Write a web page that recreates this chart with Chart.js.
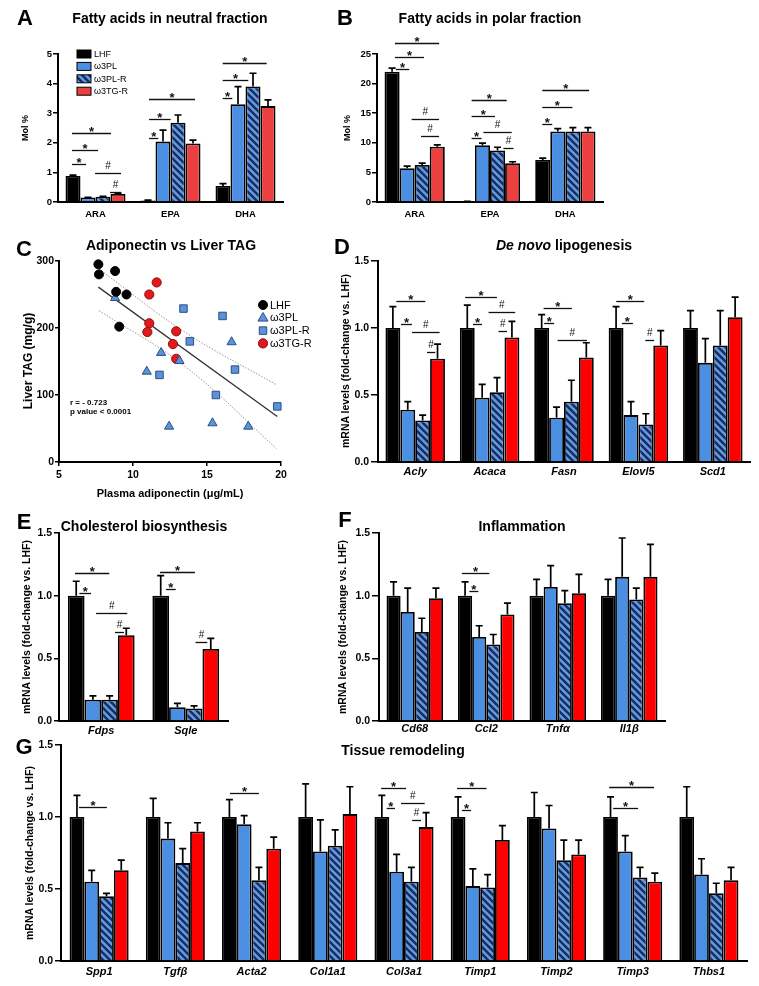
<!DOCTYPE html>
<html>
<head>
<meta charset="utf-8">
<script src="https://cdn.jsdelivr.net/npm/chart.js@4.4.1/dist/chart.umd.min.js"></script>
<style>
body { margin: 0; background: #fff; }
#page { position: relative; width: 759px; height: 986px; overflow: hidden; font-family: "Liberation Sans", Arial, sans-serif; }
#page canvas { position: absolute; }
.t { position: absolute; white-space: nowrap; transform: translate(-50%, -50%); font-weight: bold; color: #000; }
.v { transform: translate(-50%, -50%) rotate(-90deg); }
.l { transform: translate(0, -50%); }
</style>
</head>
<body>
<div id="page"></div>
<script>
// group names shared by every panel
const groups = ['LHF', 'ω3PL', 'ω3PL-R', 'ω3TG-R'];

// A - neutral fraction (mol %)
const catsA = ['ARA', 'EPA', 'DHA'];
const lhfA = [0.88, 0.05, 0.54], lhfSemA = [0.03, 0.01, 0.08];
const plA = [0.15, 2.04, 3.30], plSemA = [0.01, 0.39, 0.60];
const plrA = [0.18, 2.68, 3.90], plrSemA = [0.01, 0.26, 0.45];
const tgA = [0.27, 1.98, 3.24], tgSemA = [0.03, 0.11, 0.21];
// [category, from bar, to bar, value, symbol]
const sigA = [
    [0, 0.43, 1.37, 1.27, '*'], [0, 0.43, 2.17, 1.76, '*'], [0, 0.43, 3.03, 2.32, '*'],
    [0, 1.97, 3.70, 0.97, '#'], [0, 2.97, 3.70, 0.35, '#'],
    [1, 0.57, 1.19, 2.17, '*'], [1, 0.57, 2.01, 2.80, '*'], [1, 0.57, 3.63, 3.47, '*'],
    [2, 0.48, 1.12, 3.50, '*'], [2, 0.48, 2.19, 4.12, '*'], [2, 0.48, 3.41, 4.69, '*']
];

// B - polar fraction (mol %)
const catsB = ['ARA', 'EPA', 'DHA'];
const lhfB = [22.0, 0.1, 7.1], lhfSemB = [0.6, 0.02, 0.3];
const plB = [5.7, 9.6, 11.9], plSemB = [0.35, 0.35, 0.5];
const plrB = [6.25, 8.7, 11.9], plrSemB = [0.3, 0.55, 0.65];
const tgB = [9.35, 6.55, 11.9], tgSemB = [0.3, 0.25, 0.65];
const sigB = [
    [0, 0.75, 1.64, 22.4, '*'], [0, 0.69, 2.62, 24.5, '*'], [0, 0.69, 3.62, 26.8, '*'],
    [0, 1.80, 3.62, 14.0, '#'], [0, 2.42, 3.62, 11.15, '#'],
    [1, 0.78, 1.44, 10.75, '*'], [1, 0.78, 2.33, 14.6, '*'], [1, 0.78, 3.11, 17.2, '*'],
    [1, 1.56, 3.44, 11.9, '#'], [1, 2.89, 3.56, 9.2, '#'],
    [2, 0.47, 1.13, 13.2, '*'], [2, 0.47, 2.47, 16.1, '*'], [2, 0.47, 3.58, 18.9, '*']
];

// C - adiponectin (x, µg/mL) vs liver TAG (y, mg/g)
const lhfX = [7.66, 7.70, 8.79, 8.86, 9.56, 9.07];
const lhfY = [295, 280, 285, 254, 250, 202];
const plX = [8.79, 11.90, 10.93, 13.14, 16.66, 12.44, 15.37, 17.79];
const plY = [245, 163, 135, 151, 179, 53, 58, 53];
const plrX = [13.41, 16.05, 13.84, 11.79, 16.89, 15.60, 19.75];
const plrY = [229, 218, 180, 130, 138, 100, 83];
const tgX = [11.60, 11.10, 11.10, 10.97, 12.92, 12.70, 12.92];
const tgY = [268, 250, 207, 194, 195, 176, 154];
const fitX = [7.66, 19.75], fitY = [261, 68];
const bandX = [7.7, 13.5, 19.7];
const upperY = [288, 194, 115];
const lowerY = [226, 143, 20];

// D - de novo lipogenesis
const catsD = ['Acly', 'Acaca', 'Fasn', 'Elovl5', 'Scd1'];
const lhfD = [1, 1, 1, 1, 1], lhfSemD = [0.16, 0.17, 0.10, 0.16, 0.13];
const plD = [0.39, 0.48, 0.33, 0.35, 0.74], plSemD = [0.06, 0.10, 0.08, 0.10, 0.18];
const plrD = [0.31, 0.52, 0.45, 0.28, 0.87], plrSemD = [0.04, 0.11, 0.16, 0.08, 0.26];
const tgD = [0.77, 0.93, 0.78, 0.87, 1.08], tgSemD = [0.11, 0.12, 0.11, 0.11, 0.15];
const sigD = [
    [0, 0.73, 2.68, 1.20, '*'], [0, 1.04, 1.78, 1.03, '*'], [0, 1.78, 3.64, 0.97, '#'], [0, 2.79, 3.35, 0.82, '#'],
    [1, 0.36, 2.49, 1.23, '*'], [1, 0.88, 1.49, 1.03, '*'], [1, 1.93, 3.72, 1.12, '#'], [1, 2.60, 3.17, 0.98, '#'],
    [2, 0.63, 2.53, 1.15, '*'], [2, 0.67, 1.34, 1.04, '*'], [2, 1.57, 3.54, 0.91, '#'],
    [3, 0.51, 2.39, 1.20, '*'], [3, 0.89, 1.63, 1.04, '*'], [3, 2.46, 3.06, 0.91, '#']
];

// E - cholesterol biosynthesis
const catsE = ['Fdps', 'Sqle'];
const lhfE = [1, 1], lhfSemE = [0.115, 0.16];
const plE = [0.17, 0.11], plSemE = [0.03, 0.03];
const plrE = [0.17, 0.10], plrSemE = [0.03, 0.02];
const tgE = [0.685, 0.575], tgSemE = [0.055, 0.085];
const sigE = [
    [0, 0.43, 2.48, 1.18, '*'], [0, 0.69, 1.39, 1.02, '*'], [0, 1.69, 3.56, 0.86, '#'], [0, 2.82, 3.36, 0.71, '#'],
    [1, 0.46, 2.55, 1.19, '*'], [1, 0.82, 1.40, 1.05, '*'], [1, 2.59, 3.29, 0.63, '#']
];

// F - inflammation
const catsF = ['Cd68', 'Ccl2', 'Tnfα', 'Il1β'];
const lhfF = [1, 1, 1, 1], lhfSemF = [0.11, 0.11, 0.13, 0.13];
const plF = [0.87, 0.67, 1.07, 1.15], plSemF = [0.19, 0.09, 0.17, 0.31];
const plrF = [0.71, 0.61, 0.94, 0.97], plrSemF = [0.11, 0.08, 0.10, 0.09];
const tgF = [0.98, 0.85, 1.02, 1.15], tgSemF = [0.08, 0.09, 0.15, 0.26];
const sigF = [[1, 0.27, 2.22, 1.18, '*'], [1, 0.80, 1.44, 1.04, '*']];

// G - tissue remodeling
const catsG = ['Spp1', 'Tgfβ', 'Acta2', 'Col1a1', 'Col3a1', 'Timp1', 'Timp2', 'Timp3', 'Thbs1'];
const lhfG = [1, 1, 1, 1, 1, 1, 1, 1, 1];
const lhfSemG = [0.15, 0.13, 0.12, 0.23, 0.15, 0.14, 0.17, 0.14, 0.21];
const plG = [0.55, 0.85, 0.95, 0.76, 0.62, 0.52, 0.92, 0.76, 0.60];
const plSemG = [0.08, 0.11, 0.06, 0.22, 0.12, 0.12, 0.16, 0.11, 0.11];
const plrG = [0.45, 0.68, 0.56, 0.80, 0.55, 0.51, 0.70, 0.58, 0.47];
const plrSemG = [0.02, 0.10, 0.09, 0.11, 0.10, 0.09, 0.14, 0.07, 0.07];
const tgG = [0.63, 0.90, 0.78, 1.02, 0.93, 0.84, 0.74, 0.55, 0.56];
const tgSemG = [0.07, 0.06, 0.08, 0.19, 0.10, 0.10, 0.10, 0.06, 0.09];
const sigG = [
    [0, 0.64, 2.53, 1.07, '*'],
    [2, 0.54, 2.50, 1.17, '*'],
    [4, 0.45, 2.14, 1.20, '*'], [4, 0.83, 1.39, 1.06, '*'], [4, 1.80, 3.40, 1.10, '#'], [4, 2.55, 3.15, 0.98, '#'],
    [5, 0.43, 2.43, 1.20, '*'], [5, 0.76, 1.38, 1.05, '*'],
    [7, 0.41, 3.45, 1.21, '*'], [7, 0.68, 2.37, 1.06, '*']
];

const FONT = '"Liberation Sans", Arial, sans-serif';
Chart.defaults.font.family = FONT;
Chart.defaults.color = '#000';

const BLUE = '#4b8fe2';
const page = document.getElementById('page');

function hatch(bg, fg) {
    const s = 7;
    const c = document.createElement('canvas');
    c.width = s; c.height = s;
    const g = c.getContext('2d');
    g.fillStyle = bg;
    g.fillRect(0, 0, s, s);
    g.strokeStyle = fg;
    g.lineWidth = 2.4;
    g.beginPath();
    for (const k of [-s, 0, s]) {
        g.moveTo(k - 1, -1);
        g.lineTo(k + s + 1, s + 1);
    }
    g.stroke();
    return g.createPattern(c, 'repeat');
}
const HATCH = hatch('#5e9be3', '#1b2b5c');

function makeCanvas(a) {
    const cv = document.createElement('canvas');
    const w = a.r - a.l + 50 + a.pr;
    const h = a.pt + a.b - a.t + a.xh;
    cv.width = w; cv.height = h;
    cv.style.left = (a.l - 50) + 'px';
    cv.style.top = (a.t - a.pt) + 'px';
    cv.style.width = w + 'px';
    cv.style.height = h + 'px';
    page.appendChild(cv);
    return cv;
}

// upward error bars with caps
const errPlugin = {
    id: 'err',
    afterDatasetsDraw(chart) {
        const ctx = chart.ctx, y = chart.scales.y;
        ctx.save();
        ctx.strokeStyle = '#000';
        ctx.lineWidth = 1.7;
        chart.data.datasets.forEach((ds, i) => {
            if (!ds.sem) return;
            chart.getDatasetMeta(i).data.forEach((bar, j) => {
                const top = y.getPixelForValue(ds.data[j]);
                const e = y.getPixelForValue(ds.data[j] + ds.sem[j]);
                ctx.beginPath();
                ctx.moveTo(bar.x, top);
                ctx.lineTo(bar.x, e);
                ctx.moveTo(bar.x - 3.5, e);
                ctx.lineTo(bar.x + 3.5, e);
                ctx.stroke();
            });
        });
        ctx.restore();
    }
};

// significance brackets (* vs LHF, # vs ω3TG-R)
const sigPlugin = {
    id: 'sig',
    afterDatasetsDraw(chart, args, opts) {
        const items = opts.items || [];
        const ctx = chart.ctx, y = chart.scales.y;
        const bars = chart.getDatasetMeta(0).data;
        ctx.save();
        ctx.strokeStyle = '#111';
        ctx.fillStyle = '#111';
        ctx.lineWidth = 1.3;
        ctx.textAlign = 'center';
        ctx.textBaseline = 'alphabetic';
        items.forEach(([c, a, b, v, s]) => {
            const bar = bars[c];
            const left = bar.x - bar.width / 2;
            const x1 = left + a * bar.width, x2 = left + b * bar.width;
            const py = Math.round(y.getPixelForValue(v)) + 0.5;
            ctx.beginPath();
            ctx.moveTo(x1, py);
            ctx.lineTo(x2, py);
            ctx.stroke();
            if (s === '*') {
                ctx.font = 'bold 13px ' + FONT;
                ctx.fillText('*', (x1 + x2) / 2, py + 2);
            } else {
                ctx.font = '10px ' + FONT;
                ctx.fillText('#', (x1 + x2) / 2, py - 5);
            }
        });
        ctx.restore();
    }
};

function drawMarker(ctx, style, x, y, r) {
    ctx.beginPath();
    if (style === 'triangle') {
        ctx.moveTo(x, y - r);
        ctx.lineTo(x + r * 0.95, y + r * 0.62);
        ctx.lineTo(x - r * 0.95, y + r * 0.62);
        ctx.closePath();
    } else if (style === 'rect') {
        const s = r * Math.SQRT1_2;
        ctx.rect(x - s, y - s, 2 * s, 2 * s);
    } else {
        ctx.arc(x, y, r, 0, Math.PI * 2);
    }
    ctx.fill();
    ctx.stroke();
}

// small key drawn inside the plot area
const keyPlugin = {
    id: 'key',
    afterDraw(chart, args, opts) {
        if (opts.x === undefined) return;
        const ctx = chart.ctx, area = chart.chartArea;
        ctx.save();
        ctx.font = opts.size + 'px ' + FONT;
        ctx.textBaseline = 'middle';
        ctx.textAlign = 'left';
        chart.data.datasets.filter(d => !d.noKey).forEach((ds, i) => {
            const x = area.left + opts.x, y = area.top + opts.y + i * opts.gap;
            ctx.fillStyle = ds.backgroundColor;
            ctx.strokeStyle = ds.borderColor;
            ctx.lineWidth = 1;
            if (opts.box) {
                ctx.fillRect(x - 7, y - 4, 14, 8);
                ctx.strokeRect(x - 7, y - 4, 14, 8);
            } else {
                drawMarker(ctx, ds.pointStyle, x, y, ds.pointRadius);
            }
            ctx.fillStyle = '#000';
            ctx.fillText(ds.label, x + opts.tx, y + 0.5);
        });
        ctx.restore();
    }
};

function yAxis(min, max, step, o) {
    return {
        min: min, max: max,
        ticks: {
            stepSize: step, padding: o.pad, color: '#000',
            font: { size: o.fs, weight: 'bold' },
            callback: o.fmt ? (v => Number(v).toFixed(1)) : (v => v)
        },
        grid: { drawOnChartArea: false, drawTicks: true, tickLength: o.tl, color: '#000', lineWidth: 1.5 },
        border: { color: '#000', width: 2 },
        afterFit(s) { s.width = 50; }
    };
}

function barPanel(a, cats, vals, sems, red, sig, o) {
    const fills = ['#000', BLUE, HATCH, red];
    const datasets = vals.map((v, i) => ({
        label: groups[i],
        data: v,
        sem: sems[i],
        backgroundColor: fills[i],
        borderColor: '#000',
        borderWidth: 1.8,
        borderSkipped: 'start'
    }));
    new Chart(makeCanvas(a), {
        type: 'bar',
        data: { labels: cats, datasets: datasets },
        options: {
            responsive: false,
            animation: false,
            devicePixelRatio: 1,
            layout: { padding: { left: 0, top: a.pt, right: a.pr, bottom: 0 } },
            datasets: { bar: { categoryPercentage: o.cp, barPercentage: 1 } },
            plugins: {
                legend: { display: false },
                tooltip: { enabled: false },
                sig: { items: sig },
                key: o.key || {}
            },
            scales: {
                x: {
                    grid: { display: false, drawTicks: false },
                    border: { color: '#000', width: 2 },
                    ticks: {
                        color: '#000', padding: o.xpad, maxRotation: 0, autoSkip: false,
                        font: { size: o.xfs, weight: 'bold', style: o.italic ? 'italic' : 'normal' }
                    },
                    afterFit(s) { s.height = a.xh; }
                },
                y: yAxis(0, o.max, o.step, o.y)
            }
        },
        plugins: [errPlugin, sigPlugin, keyPlugin]
    });
}

const RED1 = '#ec3f3f';
const RED2 = '#ff0000';

barPanel({ l: 58, t: 54, r: 283, b: 202, pt: 25, pr: 8, xh: 25 }, catsA,
    [lhfA, plA, plrA, tgA], [lhfSemA, plSemA, plrSemA, tgSemA], RED1, sigA,
    { cp: 0.8, max: 5, step: 1, xfs: 9.5, xpad: 7, italic: false,
      y: { fs: 9.5, pad: 1, tl: 5 },
      key: { x: 26, y: 0, gap: 12.4, size: 9, tx: 10, box: true } });

barPanel({ l: 377, t: 54, r: 603, b: 202, pt: 25, pr: 8, xh: 25 }, catsB,
    [lhfB, plB, plrB, tgB], [lhfSemB, plSemB, plrSemB, tgSemB], RED1, sigB,
    { cp: 0.8, max: 25, step: 5, xfs: 9.5, xpad: 7, italic: false,
      y: { fs: 9.5, pad: 1, tl: 5 } });

barPanel({ l: 378, t: 261, r: 750, b: 462, pt: 10, pr: 8, xh: 25 }, catsD,
    [lhfD, plD, plrD, tgD], [lhfSemD, plSemD, plrSemD, tgSemD], RED2, sigD,
    { cp: 0.8, max: 1.5, step: 0.5, xfs: 11, xpad: 3, italic: true,
      y: { fs: 10.5, pad: 2, tl: 7, fmt: true } });

barPanel({ l: 59, t: 533, r: 228, b: 721, pt: 10, pr: 8, xh: 25 }, catsE,
    [lhfE, plE, plrE, tgE], [lhfSemE, plSemE, plrSemE, tgSemE], RED2, sigE,
    { cp: 0.79, max: 1.5, step: 0.5, xfs: 11, xpad: 3, italic: true,
      y: { fs: 10.5, pad: 2, tl: 5, fmt: true } });

barPanel({ l: 379, t: 533, r: 665, b: 721, pt: 10, pr: 8, xh: 25 }, catsF,
    [lhfF, plF, plrF, tgF], [lhfSemF, plSemF, plrSemF, tgSemF], RED2, sigF,
    { cp: 0.79, max: 1.5, step: 0.5, xfs: 11, xpad: 1, italic: true,
      y: { fs: 10.5, pad: 2, tl: 7, fmt: true } });

barPanel({ l: 61, t: 745, r: 747, b: 961, pt: 10, pr: 8, xh: 25 }, catsG,
    [lhfG, plG, plrG, tgG], [lhfSemG, plSemG, plrSemG, tgSemG], RED2, sigG,
    { cp: 0.775, max: 1.5, step: 0.5, xfs: 11, xpad: 4, italic: true,
      y: { fs: 10.5, pad: 2, tl: 6, fmt: true } });

// C - scatter with regression and confidence band
const pts = (xs, ys) => xs.map((x, i) => ({ x: x, y: ys[i] }));
const aC = { l: 59, t: 261, r: 281, b: 462, pt: 10, pr: 70, xh: 28 };
new Chart(makeCanvas(aC), {
    type: 'scatter',
    data: {
        datasets: [
            { label: 'LHF', data: pts(lhfX, lhfY), pointStyle: 'circle', pointRadius: 4.5,
              backgroundColor: '#000', borderColor: '#000', borderWidth: 1, order: 1 },
            { label: 'ω3PL', data: pts(plX, plY), pointStyle: 'triangle', pointRadius: 5.3,
              backgroundColor: '#5b93d8', borderColor: '#2c4f86', borderWidth: 1, order: 1 },
            { label: 'ω3PL-R', data: pts(plrX, plrY), pointStyle: 'rect', pointRadius: 5.3,
              backgroundColor: '#5b93d8', borderColor: '#2c4f86', borderWidth: 1, order: 1 },
            { label: 'ω3TG-R', data: pts(tgX, tgY), pointStyle: 'circle', pointRadius: 4.6,
              backgroundColor: '#e3191c', borderColor: '#8a1010', borderWidth: 1, order: 1 },
            { label: 'fit', noKey: true, data: pts(fitX, fitY), showLine: true, pointRadius: 0,
              borderColor: '#333', borderWidth: 1.3, order: 5 },
            { label: 'upper', noKey: true, data: pts(bandX, upperY), showLine: true, pointRadius: 0,
              borderColor: '#999', borderWidth: 1, borderDash: [1.5, 1.5], tension: 0.4, order: 5 },
            { label: 'lower', noKey: true, data: pts(bandX, lowerY), showLine: true, pointRadius: 0,
              borderColor: '#999', borderWidth: 1, borderDash: [1.5, 1.5], tension: 0.4, order: 5 }
        ]
    },
    options: {
        responsive: false,
        animation: false,
        devicePixelRatio: 1,
        clip: false,
        layout: { padding: { left: 0, top: aC.pt, right: aC.pr, bottom: 0 } },
        plugins: {
            legend: { display: false },
            tooltip: { enabled: false },
            key: { x: 204, y: 44, gap: 12.8, size: 11, tx: 7 }
        },
        scales: {
            x: {
                type: 'linear', min: 5, max: 20,
                ticks: { stepSize: 5, color: '#000', padding: 3, font: { size: 10.5, weight: 'bold' } },
                grid: { drawOnChartArea: false, drawTicks: true, tickLength: 4, color: '#000', lineWidth: 1.5 },
                border: { color: '#000', width: 2 },
                afterFit(s) { s.height = aC.xh; }
            },
            y: yAxis(0, 300, 100, { fs: 10.5, pad: 1, tl: 4 })
        }
    },
    plugins: [keyPlugin]
});

// panel letters, titles, axis titles
const texts = [
    [25, 18, 'A', 22], [345, 18, 'B', 22], [24, 249, 'C', 22], [342, 247, 'D', 22],
    [24, 522, 'E', 22], [345, 520, 'F', 22], [24, 747, 'G', 22],
    [170, 18, 'Fatty acids in neutral fraction', 14],
    [490, 18, 'Fatty acids in polar fraction', 14],
    [171, 245, 'Adiponectin vs Liver TAG', 14],
    [564, 245, '<i>De novo</i> lipogenesis', 14],
    [144, 526, 'Cholesterol biosynthesis', 14],
    [522, 526, 'Inflammation', 14],
    [403, 750, 'Tissue remodeling', 14],
    [170, 493, 'Plasma adiponectin (μg/mL)', 11]
];
texts.forEach(([x, y, s, f]) => {
    const d = document.createElement('div');
    d.className = 't';
    d.style.left = x + 'px';
    d.style.top = y + 'px';
    d.style.fontSize = f + 'px';
    d.innerHTML = s;
    page.appendChild(d);
});

const vtexts = [
    [25, 128, 'Mol %', 9], [347, 128, 'Mol %', 9],
    [28, 361, 'Liver TAG (mg/g)', 12],
    [345, 361, 'mRNA levels (fold-change vs. LHF)', 10.5],
    [26, 627, 'mRNA levels (fold-change vs. LHF)', 10.5],
    [342, 627, 'mRNA levels (fold-change vs. LHF)', 10.5],
    [29, 853, 'mRNA levels (fold-change vs. LHF)', 10.5]
];
vtexts.forEach(([x, y, s, f]) => {
    const d = document.createElement('div');
    d.className = 't v';
    d.style.left = x + 'px';
    d.style.top = y + 'px';
    d.style.fontSize = f + 'px';
    d.textContent = s;
    page.appendChild(d);
});

const stats = [[70, 402, 'r = - 0.723'], [70, 411, 'p value &lt; 0.0001']];
stats.forEach(([x, y, s]) => {
    const d = document.createElement('div');
    d.className = 't l';
    d.style.left = x + 'px';
    d.style.top = y + 'px';
    d.style.fontSize = '8px';
    d.innerHTML = s;
    page.appendChild(d);
});
</script>
</body>
</html>
